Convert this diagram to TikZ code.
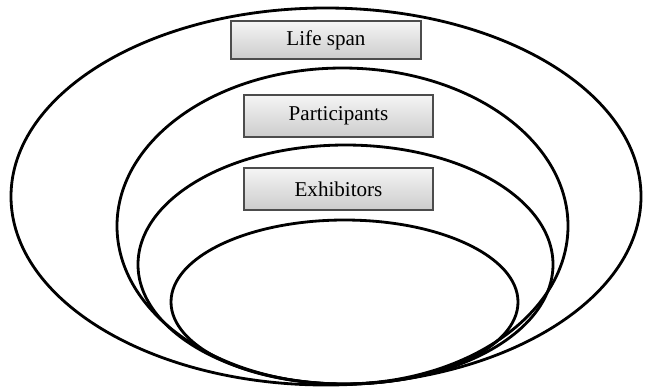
\documentclass[tikz,border=0pt]{standalone}
\usepackage{fontspec}
\setmainfont{Liberation Serif}
\usetikzlibrary{shadows}

\tikzset{
  ring/.style={line width=1.6pt},
  label box/.style={draw=black!70, line width=0.6pt, top color=gray!8, bottom color=gray!40,
    minimum height=0.8cm, font=\fontsize{12}{14}\selectfont,
    drop shadow={shadow xshift=0.8pt, shadow yshift=-0.8pt, opacity=0.35}}
}

\begin{document}
\begin{tikzpicture}
  \useasboundingbox (0,0) rectangle (13.02,7.78);

  % rings
  \draw[ring] (6.52,3.85) ellipse [x radius=6.30, y radius=3.77];
  \draw[ring] (6.85,3.26) ellipse [x radius=4.51, y radius=3.16];
  \draw[ring] (6.91,2.49) ellipse [x radius=4.15, y radius=2.39];
  \draw[ring] (6.89,1.74) ellipse [x radius=3.47, y radius=1.64];

  % labels
  \node[label box, minimum width=3.8cm, minimum height=0.76cm] (life) at (6.52,6.98) {Life span};
  \node[label box, minimum width=3.78cm, minimum height=0.84cm] (part) at (6.77,5.46) {Participants};
  \node[label box, minimum width=3.78cm, minimum height=0.84cm] (exhib) at (6.77,4.00) {Exhibitors};
\end{tikzpicture}
\end{document}
